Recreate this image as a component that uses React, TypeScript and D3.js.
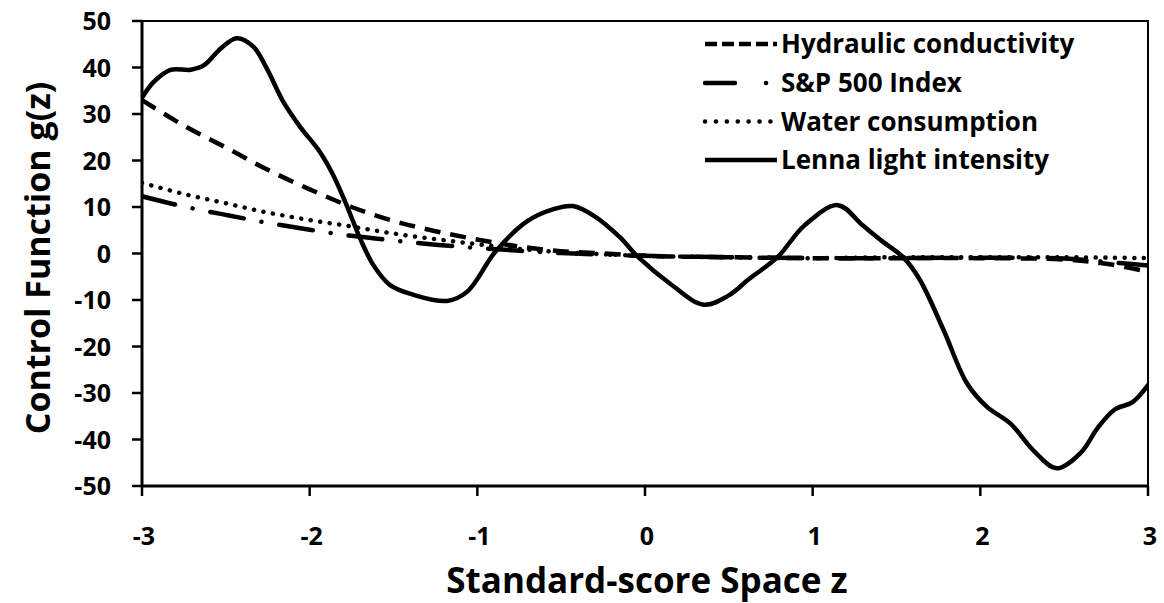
import React from "react";
import * as d3 from "d3";

// Standard-score positions and control-function values for each series
const lennaZ = [-3, -2.93, -2.83, -2.71, -2.63, -2.53, -2.435, -2.336, -2.256, -2.157, -2.058, -1.94, -1.86, -1.78, -1.7, -1.62, -1.52, -1.38, -1.18, -1.06, -0.89, -0.7, -0.55, -0.43, -0.3, -0.15, -0.04, 0.15, 0.35, 0.5, 0.62, 0.79, 0.95, 1.15, 1.3, 1.42, 1.545, 1.64, 1.78, 1.92, 2.04, 2.18, 2.32, 2.455, 2.6, 2.7, 2.8, 2.91, 3.0];
const lennaG = [33.5, 36.9, 39.5, 39.5, 40.5, 44.1, 46.3, 44.5, 39.8, 32.6, 27.3, 21.9, 16.9, 10.4, 3.3, -2.5, -6.8, -8.9, -10.2, -8.2, 0.5, 7, 9.5, 10.2, 8, 3.5, -0.8, -6.5, -11, -9, -5.5, -0.8, 6, 10.4, 6, 2.5, -1, -5.7, -16.4, -27.9, -33, -36.6, -42.5, -46.2, -42.8, -37.5, -33.6, -31.9, -28.3];

const hydraulicZ = [-3, -2.75, -2.5, -2.25, -2, -1.75, -1.5, -1.25, -1, -0.75, -0.5, -0.25, 0, 0.5, 1, 1.5, 2, 2.5, 2.75, 3];
const hydraulicG = [33, 27.5, 22.8, 18, 13.8, 10, 7, 4.8, 3, 1.5, 0.5, 0, -0.5, -0.8, -1, -1, -1, -1.3, -2.2, -3.9];

const spZ = [-3, -2.75, -2.5, -2.25, -2, -1.75, -1.5, -1.25, -1, -0.75, -0.5, 0, 0.5, 1, 1.5, 2, 2.5, 2.75, 3];
const spG = [12.3, 10.1, 8.3, 6.6, 5.1, 3.8, 2.8, 1.9, 1.2, 0.6, 0.1, -0.5, -0.8, -1, -1, -0.9, -1.1, -1.8, -2.6];

const waterZ = [-3, -2.75, -2.5, -2.25, -2, -1.75, -1.5, -1.25, -1, -0.75, -0.5, 0, 0.5, 1, 1.5, 2, 2.5, 3];
const waterG = [15.2, 12.8, 10.8, 8.8, 7.2, 5.8, 4.3, 3.1, 2, 1, 0.3, -0.5, -0.8, -1, -0.8, -0.8, -0.8, -1];

const xTicks = [-3, -2, -1, 0, 1, 2, 3];
const yTicks = [50, 40, 30, 20, 10, 0, -10, -20, -30, -40, -50];

const legendLabels = ["Hydraulic conductivity", "S&P 500 Index", "Water consumption", "Lenna light intensity"];

const W = 1164;
const H = 603;
const FONT = "'Open Sans', 'DejaVu Sans', sans-serif";

export default function App() {
  const x = d3.scaleLinear().domain([-3, 3]).range([142, 1148]);
  const y = d3.scaleLinear().domain([-50, 50]).range([486, 21]);

  const line = d3
    .line<[number, number]>()
    .x((d) => x(d[0]))
    .y((d) => y(d[1]))
    .curve(d3.curveCatmullRom.alpha(0.5));

  const zip = (zs: number[], gs: number[]) => zs.map((z, i) => [z, gs[i]] as [number, number]);

  const styles = [
    { dash: "16 10", cap: "butt" as const, width: 4.5 },
    { dash: "34 18 0.1 18", cap: "round" as const, width: 4.5 },
    { dash: "0.1 9.5", cap: "round" as const, width: 4.5 },
    { dash: undefined, cap: "round" as const, width: 4.5 },
  ];
  const legendDash = ["12 5", "30 31 0.1 40", "0.1 10.8", undefined];
  const legendCap = ["butt", "round", "round", "butt"] as const;
  const series = [zip(hydraulicZ, hydraulicG), zip(spZ, spG), zip(waterZ, waterG), zip(lennaZ, lennaG)];

  const legendX0 = 705;
  const legendX1 = 777;
  const legendRows = [44, 83, 121.5, 160];

  return (
    <svg width={W} height={H} style={{ display: "block", position: "absolute", left: 0, top: 0 }}>
      <rect width={W} height={H} fill="#fff" />
      <defs>
        <clipPath id="plot">
          <rect x={x(-3)} y={y(50)} width={x(3) - x(-3)} height={y(-50) - y(50)} />
        </clipPath>
      </defs>

      {/* series */}
      <g clipPath="url(#plot)">
        {series.map((s, i) => (
          <path
            key={i}
            d={line(s) ?? ""}
            fill="none"
            stroke="#000"
            strokeWidth={styles[i].width}
            strokeDasharray={styles[i].dash}
            strokeLinecap={styles[i].cap}
            strokeLinejoin="round"
          />
        ))}
      </g>

      {/* frame */}
      <rect
        x={x(-3)}
        y={y(50)}
        width={x(3) - x(-3)}
        height={y(-50) - y(50)}
        fill="none"
        stroke="#000"
        strokeWidth={2}
      />
      <line x1={x(-3)} x2={x(3)} y1={y(-50)} y2={y(-50)} stroke="#000" strokeWidth={3} />
      <line x1={x(-3)} x2={x(-3)} y1={y(50)} y2={y(-50)} stroke="#000" strokeWidth={3} />

      {/* y ticks */}
      {yTicks.map((t) => (
        <g key={t}>
          <line x1={x(-3) - 10} x2={x(-3)} y1={y(t)} y2={y(t)} stroke="#000" strokeWidth={2.5} />
          <text
            x={111}
            y={y(t)}
            dy="0.36em"
            textAnchor="end"
            fontFamily={FONT}
            fontWeight="bold"
            fontSize={25}
          >
            {t}
          </text>
        </g>
      ))}

      {/* x ticks */}
      {xTicks.map((t) => (
        <g key={t}>
          <line x1={x(t)} x2={x(t)} y1={y(-50)} y2={y(-50) + 10} stroke="#000" strokeWidth={2.5} />
          <text
            x={x(t) + 2}
            y={545}
            textAnchor="middle"
            fontFamily={FONT}
            fontWeight="bold"
            fontSize={25}
          >
            {t}
          </text>
        </g>
      ))}

      {/* axis titles */}
      <text
        x={647}
        y={593}
        textAnchor="middle"
        fontFamily={FONT}
        fontWeight="bold"
        fontSize={35}
      >
        Standard-score Space z
      </text>
      <text
        transform={`translate(50, 258) rotate(-90)`}
        textAnchor="middle"
        fontFamily={FONT}
        fontWeight="bold"
        fontSize={34}
      >
        Control Function g(z)
      </text>

      {/* legend */}
      {legendLabels.map((label, i) => (
        <g key={label}>
          <line
            x1={legendX0}
            x2={legendX1}
            y1={legendRows[i]}
            y2={legendRows[i]}
            stroke="#000"
            strokeWidth={4.5}
            strokeDasharray={legendDash[i]}
            strokeLinecap={legendCap[i]}
          />
          <text
            x={781}
            y={legendRows[i]}
            dy="0.36em"
            fontFamily={FONT}
            fontWeight="bold"
            fontSize={26}
          >
            {label}
          </text>
        </g>
      ))}
    </svg>
  );
}
